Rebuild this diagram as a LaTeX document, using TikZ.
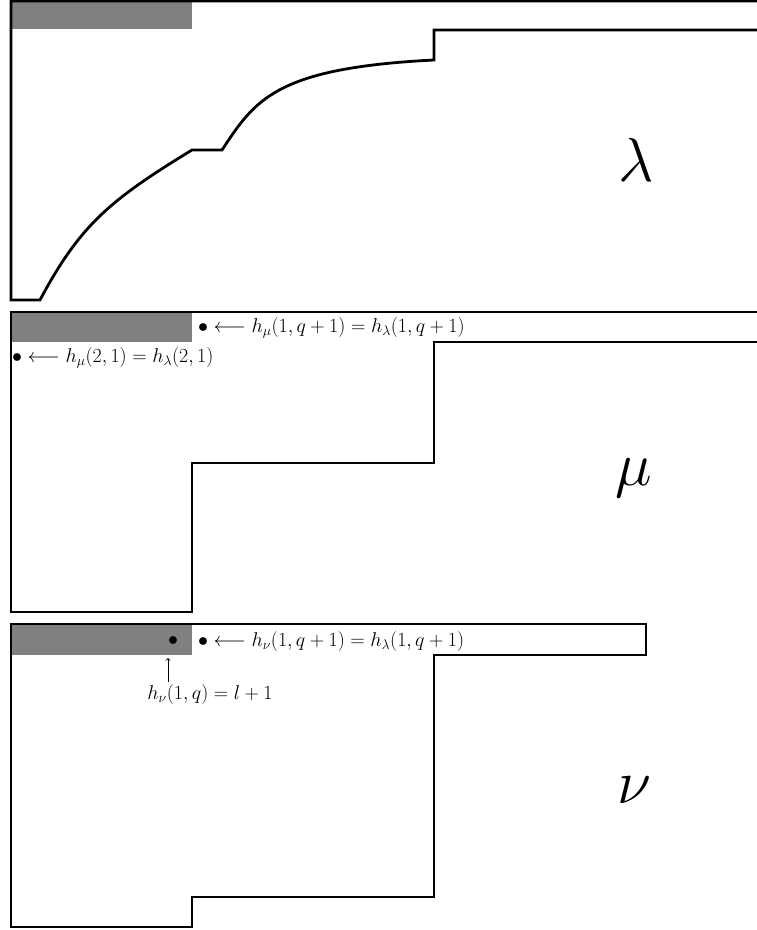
\documentclass[tikz,border=0pt]{standalone}
\usepackage{fix-cm}
\begin{document}
\begin{tikzpicture}[x=1pt,y=-1pt,
  edge/.style={line width=2.8pt,line join=miter},
  bar/.style={fill=black!50,draw=none},
  lbl/.style={inner sep=0pt,anchor=west,font=\fontsize{20}{24}\selectfont},
  big/.style={inner sep=0pt,font=\fontsize{62}{70}\selectfont}]
\useasboundingbox (0,0) rectangle (757,930);
\clip (0,0) rectangle (757,930);
% lambda panel
\fill[bar] (11,1) rectangle (192,29);
\draw[edge] (770,1) -- (11,1) -- (11,300) -- (40,300)
  .. controls (80,225) and (110,200) .. (192,150) -- (222,150)
  .. controls (255,100) and (275,68) .. (434,60) -- (434,30) -- (770,30);
\node[big] (lam) at (636,160) {$\lambda$};
% mu panel
\fill[bar] (11,313) rectangle (192,342);
\draw[edge] (770,312) -- (11,312) -- (11,612) -- (192,612) -- (192,463)
  -- (434,463) -- (434,342) -- (770,342);
\node[lbl] (mu1) at (198,328) {$\bullet\longleftarrow h_\mu(1,q+1)=h_\lambda(1,q+1)$};
\node[lbl] (mu2) at (12,358) {$\bullet\longleftarrow h_\mu(2,1)=h_\lambda(2,1)$};
\node[big] (mub) at (634,478) {$\mu$};
% nu panel
\fill[bar] (11,625) rectangle (192,655);
\draw[edge] (11,624) -- (646,624) -- (646,655) -- (434,655) -- (434,897)
  -- (192,897) -- (192,927) -- (11,927) -- cycle;
\node[inner sep=0pt,font=\fontsize{20}{24}\selectfont] (dot) at (173,641) {$\bullet$};
\node[lbl] (nu1) at (198,641) {$\bullet\longleftarrow h_\nu(1,q+1)=h_\lambda(1,q+1)$};
\node[inner sep=0pt,font=\fontsize{20}{24}\selectfont] (nu2) at (210,694) {$h_\nu(1,q)=l+1$};
\coordinate (tip) at (168,658);
\draw[->,line width=0.9pt] (nu2.north -| tip) ++(0,-2) -- (tip);
\node[big] (nub) at (634,790) {$\nu$};
\end{tikzpicture}
\end{document}
